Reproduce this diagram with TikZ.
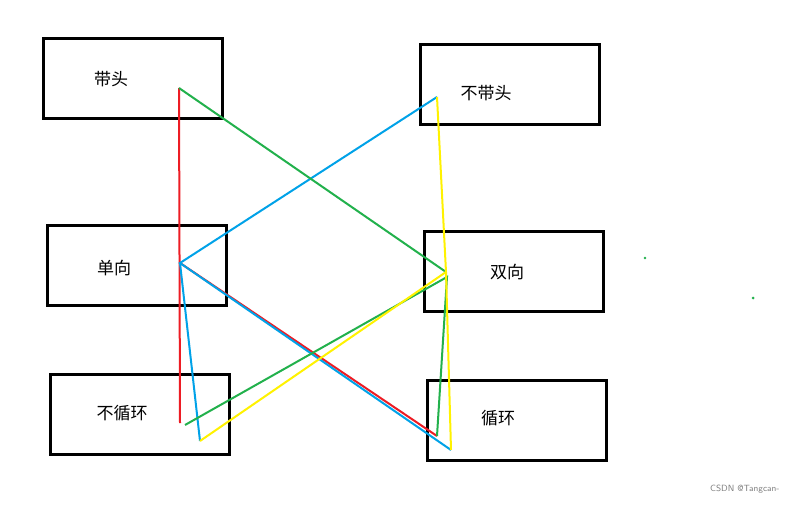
\documentclass[tikz,border=0pt]{standalone}
\usepackage{fontspec}
\newfontfamily\cjk{Noto Sans CJK SC}
\definecolor{lred}{RGB}{237,28,36}
\definecolor{lgreen}{RGB}{34,177,76}
\definecolor{lblue}{RGB}{0,162,232}
\definecolor{lyellow}{RGB}{255,242,0}
\begin{document}
\begin{tikzpicture}[x=1pt,y=-1pt,
  box/.style={draw=black,line width=3pt,minimum width=179pt,minimum height=80pt,inner sep=0pt},
  lbl/.style={font=\cjk\fontsize{17}{20}\selectfont},
  ln/.style={line width=2pt}]
\fill[white] (0,0) rectangle (797,505);
\useasboundingbox (0,0) rectangle (797,505);
\node[box] (b1) at (132.5,79) {};
\node[box] (b2) at (509.5,85) {};
\node[box] (b3) at (136.5,265) {};
\node[box] (b4) at (513.5,271) {};
\node[box] (b5) at (139.5,414) {};
\node[box] (b6) at (516.5,420) {};
\node[lbl] (t1) at (111,79) {带头};
\node[lbl] (t2) at (486,93) {不带头};
\node[lbl] (t3) at (114,268) {单向};
\node[lbl] (t4) at (507,272) {双向};
\node[lbl] (t5) at (122,413) {不循环};
\node[lbl] (t6) at (498,418) {循环};
\coordinate (a) at (179,88);
\coordinate (r) at (180,423);
\coordinate (s) at (180,263);
\coordinate (q) at (437,97);
\coordinate (d) at (446,272);
\coordinate (ge) at (437,436);
\coordinate (be) at (451,450);
\coordinate (bl) at (200,441);
\coordinate (gl) at (185,425);
\draw[ln,lred] (a) -- (r);
\draw[ln,lred] (s) -- (ge);
\draw[ln,lblue] (q) -- (s) -- (be);
\draw[ln,lblue] (s) -- (bl);
\draw[ln,lgreen] (a) -- (d);
\draw[ln,lgreen] (gl) -- (447,277) -- (ge);
\draw[ln,lyellow] (q) -- (d) -- (be);
\draw[ln,lyellow] (bl) -- (d);
\fill[lgreen] (645,258) circle (1.3);
\fill[lgreen] (753,298) circle (1.5);
\node[font=\fontsize{9}{10}\selectfont\sffamily,text=gray,anchor=east] (w) at (783,489) {CSDN @Tangcan-};
\end{tikzpicture}
\end{document}
